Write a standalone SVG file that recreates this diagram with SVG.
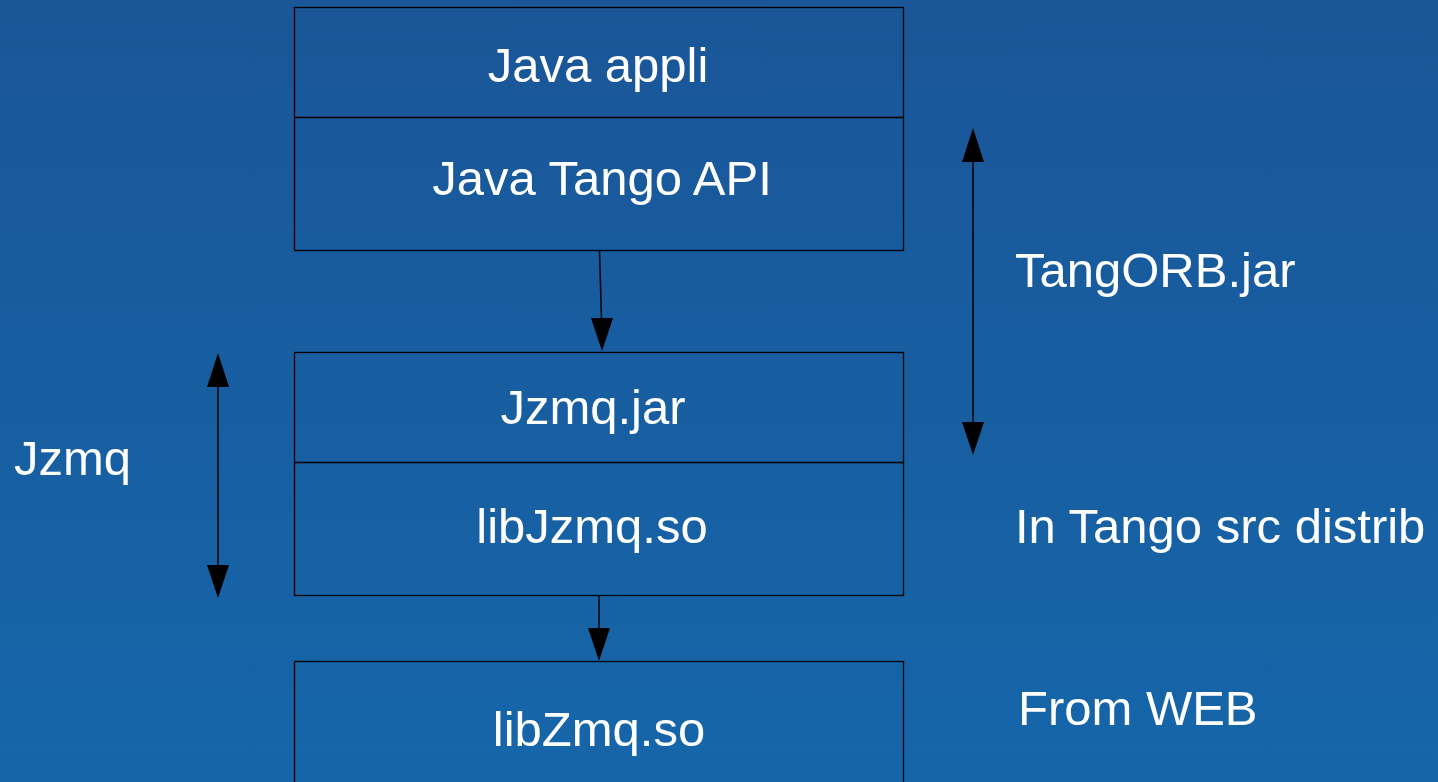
<svg xmlns="http://www.w3.org/2000/svg" width="1438" height="782" viewBox="0 0 1438 782">
<defs>
<linearGradient id="bg" x1="0" y1="0" x2="0" y2="1">
<stop offset="0" stop-color="#1a5698"/>
<stop offset="1" stop-color="#1566a9"/>
</linearGradient>
<style>
.box{fill:none;stroke:#000;stroke-width:1.3}
.t{font-size:49px;fill:#fff}
.c{text-anchor:middle}
.ln{stroke:#000;stroke-width:1.5;fill:none}
.hd{fill:#000}
</style>
</defs>
<rect x="0" y="0" width="1438" height="782" fill="url(#bg)"/>
<g font-family="'Liberation Sans', Arimo, Arial, Helvetica, sans-serif">
<g id="node-java-appli">
<rect class="box" x="294.5" y="7.5" width="609" height="110"/>
<text class="t c" x="598" y="82">Java appli</text>
</g>
<g id="node-java-tango-api">
<rect class="box" x="294.5" y="117.5" width="609" height="133"/>
<text class="t c" x="602" y="195">Java Tango API</text>
</g>
<g id="node-jzmq-jar">
<rect class="box" x="294.5" y="352.5" width="609" height="110"/>
<text class="t c" x="593" y="424">Jzmq.jar</text>
</g>
<g id="node-libjzmq">
<rect class="box" x="294.5" y="462.5" width="609" height="133"/>
<text class="t c" x="592" y="543">libJzmq.so</text>
</g>
<g id="node-libzmq">
<rect class="box" x="294.5" y="661.5" width="609" height="140"/>
<text class="t c" x="599" y="746">libZmq.so</text>
</g>
<g id="labels">
<text class="t" x="1015" y="287">TangORB.jar</text>
<text class="t" x="1015" y="543">In Tango src distrib</text>
<text class="t" x="1018" y="725">From WEB</text>
<text class="t" x="14" y="475">Jzmq</text>
</g>
</g>
<g id="connectors">
<line class="ln" x1="599.5" y1="251" x2="601.5" y2="320"/>
<path class="hd" d="M591,318 L613,318 L602,351 Z"/>
<line class="ln" x1="599" y1="596" x2="599" y2="630"/>
<path class="hd" d="M588,628 L610,628 L599,661 Z"/>
<line class="ln" x1="973" y1="160" x2="973" y2="424"/>
<path class="hd" d="M962,162 L984,162 L973,128 Z"/>
<path class="hd" d="M962,422 L984,422 L973,455 Z"/>
<line class="ln" x1="218" y1="385" x2="218" y2="567"/>
<path class="hd" d="M207,387 L229,387 L218,353 Z"/>
<path class="hd" d="M207,565 L229,565 L218,598 Z"/>
</g>
</svg>
